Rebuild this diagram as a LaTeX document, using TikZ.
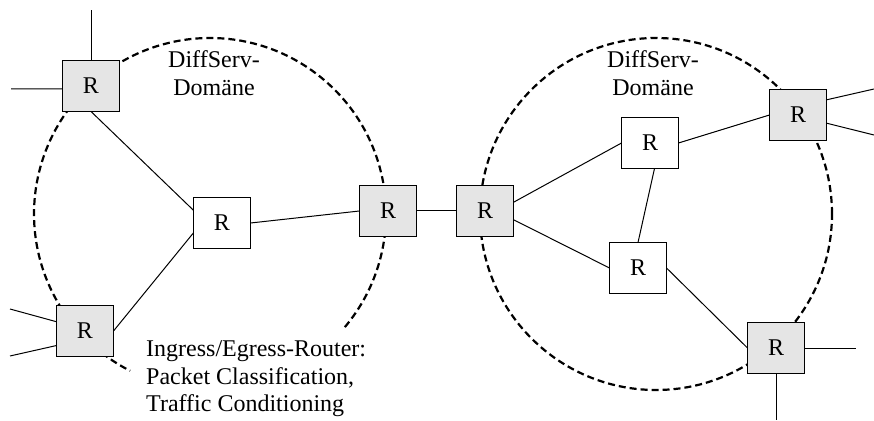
\documentclass[tikz,border=0pt]{standalone}
\usepackage{fontspec}
\setmainfont{Liberation Serif}
\begin{document}
\begin{tikzpicture}[x=1pt, y=1pt,
    router/.style={draw, line width=1pt, fill=white, minimum width=57pt,
        minimum height=51pt, inner sep=0pt, outer sep=0pt,
        font=\fontsize{24}{28}\selectfont},
    edgerouter/.style={router, fill=black!10},
    dsdomain/.style={line width=2.2pt, dash pattern=on 7pt off 4pt},
    link/.style={line width=1pt}]
    \useasboundingbox (0,0) rectangle (874,420);

    % the two domains
    \coordinate (cL) at (210,206);
    \coordinate (cR) at (656,206);
    \draw[dsdomain] ([shift={(-40:176)}]cL) arc[start angle=-40, end angle=243, radius=176];
    \draw[dsdomain] (cR) circle[radius=176];

    % routers
    \node[edgerouter] (tl) at (91,334) {R};
    \node[edgerouter] (bl) at (85,89) {R};
    \node[router]     (cl) at (222,197) {R};
    \node[edgerouter] (el) at (388,209) {R};
    \node[edgerouter] (er) at (485,209) {R};
    \node[router]     (cu) at (650,277) {R};
    \node[router]     (cd) at (638,152) {R};
    \node[edgerouter] (tr) at (798,305) {R};
    \node[edgerouter] (br) at (776,72) {R};

    % free ends of the outside links
    \coordinate (tln) at (91,410);
    \coordinate (tlw) at (11,331);
    \coordinate (blu) at (10,111);
    \coordinate (bll) at (10,64);
    \coordinate (tru) at (874,331);
    \coordinate (trl) at (874,285);
    \coordinate (bre) at (856,72);
    \coordinate (brs) at (776,0);

    \draw[link] (tl.north) -- (tln);
    \draw[link] (tl.186) -- (tlw);
    \draw[link] (bl.162) -- (blu);
    \draw[link] (bl.207) -- (bll);
    \draw[link] (tr.28) -- (tru);
    \draw[link] (tr.-16) -- (trl);
    \draw[link] (br.east) -- (bre);
    \draw[link] (br.south) -- (brs);

    % links inside and between the domains
    \draw[link] (tl.south) -- (cl.156);
    \draw[link] (cl.199) -- (bl.east);
    \draw[link] (cl.east) -- (el.west);
    \draw[link] (el.east) -- (er.west);
    \draw[link] (er.17) -- (cu.west);
    \draw[link] (cu.east) -- (tr.west);
    \draw[link] (cu.-80) -- (cd.north);
    \draw[link] (er.-17) -- (cd.west);
    \draw[link] (cd.east) -- (br.west);

    % labels
    \node[align=center, font=\fontsize{24}{28}\selectfont] (dl) at (214,347) {DiffServ-\\Domäne};
    \node[align=center, font=\fontsize{24}{28}\selectfont] (dr) at (653,347) {DiffServ-\\Domäne};
    \node[align=left, anchor=north west, inner sep=0pt,
        font=\fontsize{24}{27.5}\selectfont] (note) at (146,79.5)
        {Ingress/Egress-Router:\\Packet Classification,\\Traffic Conditioning};
\end{tikzpicture}
\end{document}
